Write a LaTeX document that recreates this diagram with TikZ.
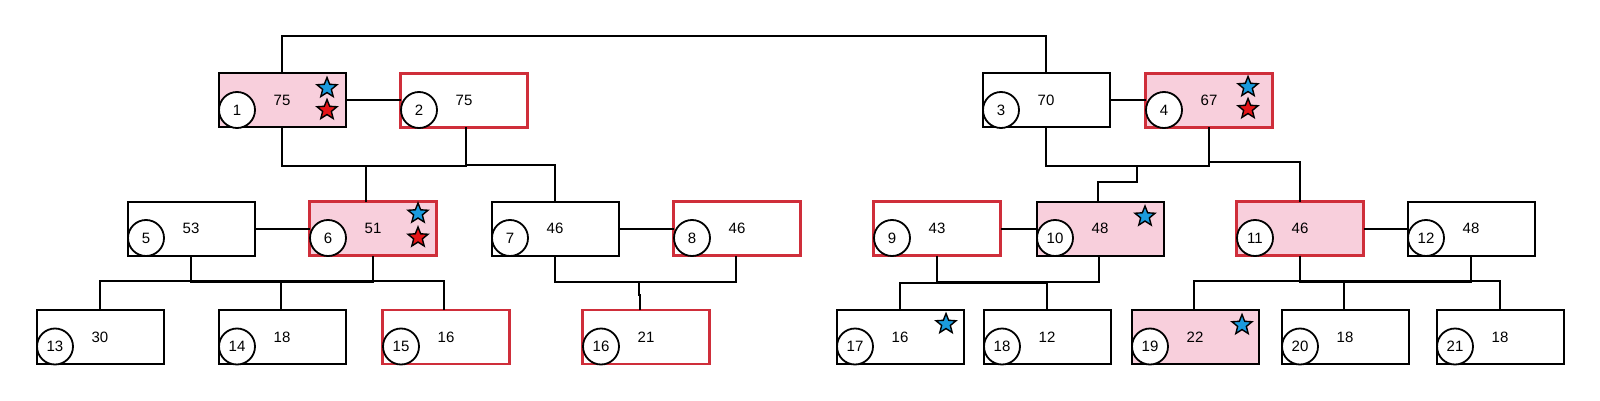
\documentclass[tikz,border=0pt]{standalone}
\usepackage{fontspec}
\setmainfont{Liberation Sans}
\usetikzlibrary{shapes.geometric,calc}
\definecolor{pinkfill}{RGB}{248,207,220}
\definecolor{redline}{RGB}{207,46,58}
\definecolor{starblue}{RGB}{27,155,222}
\definecolor{starred}{RGB}{229,20,24}
\newcommand{\tbox}[5]{%
  \node[#2] (n#1) at (#3,#4) {#5};
  \node[numc] (c#1) at ([shift={(-45,9.5)}]n#1.center) {#1};}
\begin{document}
\begin{tikzpicture}[x=1pt,y=-1pt,
  box/.style={rectangle,draw=black,line width=2pt,outer sep=0pt,minimum width=127pt,minimum height=54pt,inner sep=0pt,fill=white,font=\fontsize{15}{15}\selectfont},
  pinkbox/.style={box,fill=pinkfill},
  redbox/.style={box,draw=redline,line width=2.6pt},
  pinkred/.style={redbox,fill=pinkfill},
  numc/.style={circle,draw=black,fill=white,line width=1.8pt,outer sep=0pt,minimum size=36pt,inner sep=0pt,font=\fontsize{15}{15}\selectfont},
  bstar/.style={star,star points=5,star point ratio=2.3,minimum size=21pt,inner sep=0pt,outer sep=0pt,draw=black,line width=1.4pt,fill=starblue},
  rstar/.style={bstar,fill=starred},
  conn/.style={line width=2pt,draw=black}]
\useasboundingbox (0,0) rectangle (1600,401);

\coordinate (m12) at (366,166);
\coordinate (m34) at (1137,166);

% boxes row 1
\tbox{1}{pinkbox}{282}{100.5}{75}
\tbox{2}{redbox}{464}{100.5}{75}
\tbox{3}{box}{1046}{100.5}{70}
\tbox{4}{pinkred}{1209}{100.5}{67}
% row 2
\tbox{5}{box}{191}{228.5}{53}
\tbox{6}{pinkred}{373}{228.5}{51}
\tbox{7}{box}{555}{228.5}{46}
\tbox{8}{redbox}{737}{228.5}{46}
\tbox{9}{redbox}{937}{228.5}{43}
\tbox{10}{pinkbox}{1100}{228.5}{48}
\tbox{11}{pinkred}{1300}{228.5}{46}
\tbox{12}{box}{1471}{228.5}{48}
% row 3
\tbox{13}{box}{100}{337}{30}
\tbox{14}{box}{282}{337}{18}
\tbox{15}{redbox}{446}{337}{16}
\tbox{16}{redbox}{646}{337}{21}
\tbox{17}{box}{900}{337}{16}
\tbox{18}{box}{1047}{337}{12}
\tbox{19}{pinkbox}{1195}{337}{22}
\tbox{20}{box}{1345}{337}{18}
\tbox{21}{box}{1500}{337}{18}

% stars
\node[bstar] (s1b) at ([shift={(45,-12.5)}]n1.center) {};
\node[rstar] (s1r) at ([shift={(45,9.5)}]n1.center) {};
\node[bstar] (s4b) at ([shift={(39,-13.5)}]n4.center) {};
\node[rstar] (s4r) at ([shift={(39,8.5)}]n4.center) {};
\node[bstar] (s6b) at ([shift={(45,-15)}]n6.center) {};
\node[rstar] (s6r) at ([shift={(45,9)}]n6.center) {};
\node[bstar] (s10b) at ([shift={(45,-12)}]n10.center) {};
\node[bstar] (s17b) at ([shift={(46,-13)}]n17.center) {};
\node[bstar] (s19b) at ([shift={(47,-12)}]n19.center) {};

% horizontal sibling links
\draw[conn] (n1.east) -- (n2.west);
\draw[conn] (n3.east) -- (n4.west);
\draw[conn] (n5.east) -- (n6.west);
\draw[conn] (n7.east) -- (n8.west);
\draw[conn] (n9.east) -- (n10.west);
\draw[conn] (n11.east) -- (n12.west);

% top link
\draw[conn] (n1.north) -- ++(0,-37.5) -| (n3.north);

% row 1 merges
\draw[conn] (n1.south) -- ++(0,38.5) -| ([xshift=2pt]n2.south);
\draw[conn] (m12) -- (m12 |- n6.north);
\draw[conn] ([xshift=2pt]n2.south) ++(0,37.5) -| (n7.north);
\draw[conn] (n3.south) -- ++(0,38.5) -| (n4.south);
\draw[conn] (m34) -- ++(0,16) -| ([xshift=-2pt]n10.north);
\draw[conn] (n4.south) -- ++(0,34.5) -| (n11.north);

% row 2 merges
\draw[conn] (n5.south) -- ++(0,26.5) -| (n6.south);
\draw[conn] (n13.north) -- ++(0,-29) -| ([xshift=-2pt]n15.north);
\draw[conn] ([xshift=-1pt]n14.north) -- ++(0,-29);

\draw[conn] (n7.south) -- ++(0,26.5) -| ([xshift=-1pt]n8.south);
\draw[conn] ([xshift=-6pt]n16.north) -- ++(0,-15) -- ++(-1,0) -- ++(0,-13);

\draw[conn] (n9.south) -- ++(0,26.5) -| ([xshift=-1pt]n10.south);
\draw[conn] (n17.north) -- ++(0,-27) -| (n18.north);

\draw[conn] (n11.south) -- ++(0,26.5) -| (n12.south);
\draw[conn] ([xshift=-1pt]n19.north) -- ++(0,-29) -| (n21.north);
\draw[conn] ([xshift=-1pt]n20.north) -- ++(0,-29);
\end{tikzpicture}
\end{document}
